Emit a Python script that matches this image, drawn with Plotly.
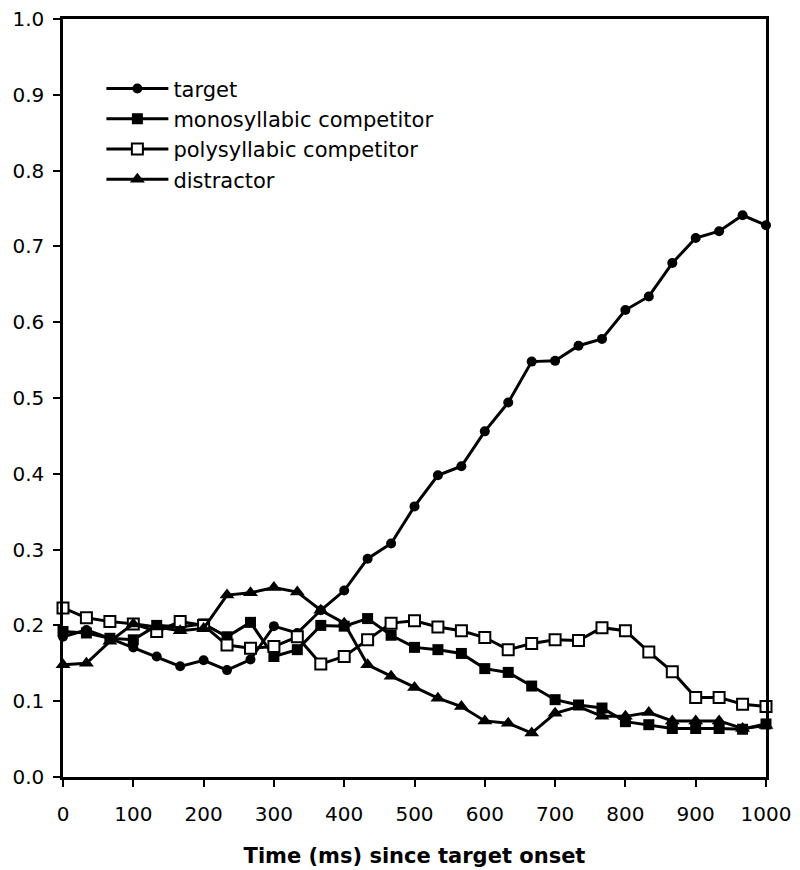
import plotly.graph_objects as go

time_ms = [0, 33.3, 66.7, 100, 133.3, 166.7, 200, 233.3, 266.7, 300, 333.3, 366.7, 400,
           433.3, 466.7, 500, 533.3, 566.7, 600, 633.3, 666.7, 700, 733.3, 766.7, 800,
           833.3, 866.7, 900, 933.3, 966.7, 1000]

target = [0.185, 0.194, 0.183, 0.171, 0.159, 0.146, 0.154, 0.141, 0.155, 0.199, 0.190,
          0.220, 0.246, 0.288, 0.308, 0.357, 0.398, 0.410, 0.456, 0.494, 0.548, 0.549,
          0.569, 0.578, 0.616, 0.634, 0.678, 0.711, 0.720, 0.741, 0.728]

mono = [0.192, 0.190, 0.183, 0.181, 0.200, 0.198, 0.202, 0.185, 0.204, 0.159, 0.168,
        0.200, 0.199, 0.209, 0.187, 0.171, 0.168, 0.163, 0.143, 0.138, 0.120, 0.102,
        0.095, 0.091, 0.073, 0.069, 0.064, 0.064, 0.064, 0.063, 0.070]

poly = [0.223, 0.210, 0.205, 0.202, 0.192, 0.205, 0.200, 0.174, 0.170, 0.172, 0.185,
        0.149, 0.159, 0.181, 0.203, 0.206, 0.198, 0.193, 0.184, 0.168, 0.176, 0.181,
        0.180, 0.197, 0.193, 0.165, 0.139, 0.105, 0.105, 0.096, 0.093]

distractor = [0.148, 0.150, 0.179, 0.202, 0.198, 0.193, 0.196, 0.240, 0.243, 0.250, 0.244,
              0.220, 0.203, 0.148, 0.133, 0.118, 0.104, 0.093, 0.074, 0.071, 0.058, 0.084,
              0.093, 0.080, 0.080, 0.085, 0.074, 0.074, 0.074, 0.064, 0.068]

x_ticks = [0, 100, 200, 300, 400, 500, 600, 700, 800, 900, 1000]
y_ticks = [0, 0.1, 0.2, 0.3, 0.4, 0.5, 0.6, 0.7, 0.8, 0.9, 1.0]

series = [
    ("target", target, dict(symbol="circle", size=10, color="black")),
    ("monosyllabic competitor", mono, dict(symbol="square", size=11, color="black")),
    ("polysyllabic competitor", poly, dict(symbol="square", size=11, color="white",
                                           line=dict(color="black", width=2))),
    ("distractor", distractor, dict(symbol="triangle-up", size=13, color="black")),
]

fig = go.Figure()
for name, vals, marker in series:
    fig.add_trace(go.Scatter(x=time_ms, y=vals, name=name, mode="lines+markers",
                             line=dict(color="black", width=3), marker=marker,
                             cliponaxis=False))

fig.update_layout(
    width=800, height=870,
    margin=dict(l=63, r=34, t=19, b=93, autoexpand=False),
    paper_bgcolor="white", plot_bgcolor="white",
    font=dict(family="DejaVu Sans", size=20, color="black"),
    showlegend=True,
    legend=dict(x=0.0546, y=0.935, xanchor="left", yanchor="top",
                bgcolor="rgba(0,0,0,0)", font=dict(size=21, family="DejaVu Sans"),
                tracegroupgap=0, itemwidth=62),
    xaxis=dict(range=[0, 1000], tickvals=x_ticks, automargin=False,
               showgrid=False, zeroline=False, showline=True, linecolor="black", linewidth=2.5,
               mirror=True, ticks="outside", ticklen=7, tickwidth=2, tickcolor="black",
               ticklabelstandoff=10,
               tickfont=dict(family="DejaVu Sans", size=20),
               title=dict(text="<b>Time (ms) since target onset</b>", standoff=24,
                          font=dict(family="DejaVu Sans", size=21))),
    yaxis=dict(range=[0, 1.0], tickvals=y_ticks, automargin=False,
               tickformat=".1f", showgrid=False, zeroline=False, showline=True,
               linecolor="black", linewidth=2.5, mirror=True, ticks="outside", ticklen=7,
               tickwidth=2, tickcolor="black", ticklabelstandoff=5,
               tickfont=dict(family="DejaVu Sans", size=20)),
)

fig.write_html("out.html", config={"displayModeBar": False},
               post_script="document.body.style.margin='0';document.body.style.overflow='hidden';")
